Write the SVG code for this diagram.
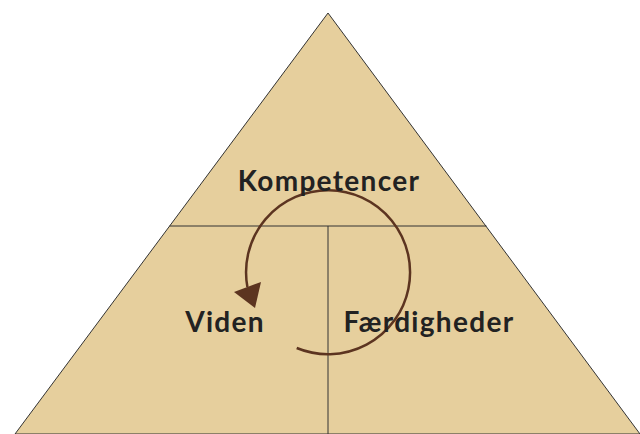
<svg xmlns="http://www.w3.org/2000/svg" width="640" height="434" viewBox="0 0 640 434">
<style>
.lbl{font-family:Lato,"Liberation Sans",sans-serif;font-weight:700;font-size:28px;letter-spacing:1.3px;fill:#222;text-anchor:middle}
.div{stroke:#333;stroke-width:1;fill:none}
</style>
<rect width="640" height="434" fill="#fff"/>
<g id="pyramid">
<polygon points="328,13 640,434 15,434" fill="#e6cf9d" stroke="#333" stroke-width="1"/>
</g>
<g id="connectors">
<line class="div" x1="169.5" y1="226" x2="486.5" y2="226"/>
<line class="div" x1="328" y1="226" x2="328" y2="434" stroke="#6b5d48"/>
<path d="M296.7,348 A82,82 0 1 0 247.4,287" fill="none" stroke="#5c3420" stroke-width="2.5"/>
<polygon points="234,292 261,282 255,308" fill="#5c3420"/>
</g>
<g id="kompetencer"><text class="lbl" x="329" y="191">Kompetencer</text></g>
<g id="viden"><text class="lbl" x="225" y="332">Viden</text></g>
<g id="faerdigheder"><text class="lbl" x="429" y="332">Færdigheder</text></g>
</svg>
